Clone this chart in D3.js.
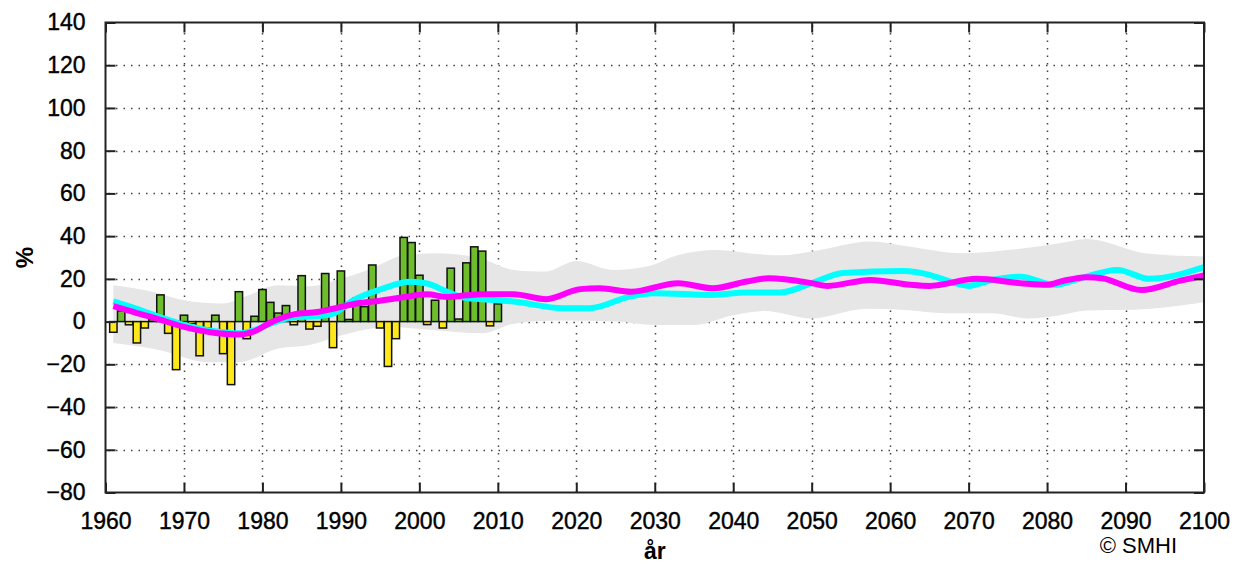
<!DOCTYPE html>
<html>
<head>
<meta charset="utf-8">
<script src="https://cdn.jsdelivr.net/npm/d3@7"></script>
<style>
  body { margin: 0; background: #fff; }
  svg { display: block; font-family: "Liberation Sans", Arial, sans-serif; }
</style>
</head>
<body>
<div id="chart"></div>
<script>
// observed yearly anomalies (%), 1961-2010
const barYears = d3.range(1961, 2011)
const barValues = [
  -5, 5, -1.5, -10, -3, 1, 12.5, -5.5, -22.5, 3,
  -1, -16, -3, 3, -15, -29.5, 14, -8, 2.5, 15,
  9, 4, 7.5, -1.5, 21.5, -3.5, -2.2, 22.5, -12.2, 23.7,
  1, 11, 7, 26.5, -3, -21, -8, 39.4, 37, 21.7,
  -1.4, 10, -3, 25, 1.2, 27.5, 35, 33, -2, 8.3
]

// smoothed series
const magentaYears = [1961, 1964, 1966, 1970, 1974, 1977, 1979, 1981, 1984, 1987, 1989, 1992, 1995, 1999, 2001, 2003.5, 2006, 2008, 2012, 2016.2, 2020.5, 2023, 2027, 2033, 2037.4, 2041.7, 2044.5, 2050, 2052, 2057.5, 2062.6, 2065, 2071, 2076.6, 2080, 2082, 2085, 2087, 2092, 2097, 2100]
const magentaValues = [7.2, 4, 2, -2.5, -5.3, -6, -4.5, -0.5, 3.4, 4.5, 6, 8.5, 9.8, 12, 12.8, 11.5, 12.3, 12.8, 12.8, 10.5, 15.2, 15.6, 14, 18, 15.6, 18.75, 20.3, 18, 16.7, 19.5, 17.2, 16.7, 20, 18, 17.2, 19, 20.8, 20.3, 14.8, 19.2, 21.6]

const cyanYears = [1961, 1964, 1967, 1970, 1974, 1977, 1979, 1981, 1984, 1987, 1989, 1991.6, 1995.4, 1998.8, 2001, 2003.5, 2006, 2008, 2012, 2018.3, 2021.7, 2026.8, 2029.8, 2037, 2041.7, 2046, 2050, 2054, 2061.7, 2065, 2067, 2070, 2073, 2076.6, 2081, 2084, 2089, 2093, 2100]
const cyanValues = [9.5, 6, 2, -1.5, -4.5, -5.5, -4, -1, 2, 2.5, 3.7, 10, 15.5, 18.6, 17.8, 14, 11, 10.5, 9.4, 6.25, 6.25, 11.7, 13.3, 12.5, 13.6, 13.6, 18, 22.7, 23.7, 21.9, 19.5, 16.7, 19.5, 21, 17.2, 20, 24.2, 20, 25.5]

// spread band
const bandUpperYears = [1961, 1966, 1970, 1975, 1978, 1982, 1986, 1990, 1994, 1998, 2002, 2007.7, 2012, 2016, 2020, 2024.7, 2029, 2033, 2038, 2042, 2046, 2050, 2057.5, 2062.6, 2069, 2075, 2081.6, 2085, 2093, 2100]
const bandUpperValues = [17, 14, 10, 8.5, 12, 17, 16.5, 20, 25, 31, 32, 29.7, 24.2, 23.4, 28.4, 24.2, 25.8, 31.2, 33.5, 32, 31, 32.8, 37.5, 35, 32, 33.5, 36.7, 38.7, 31.7, 30.5]
const bandLowerYears = [1961, 1967, 1973, 1977, 1982, 1986, 1990, 1996, 2002, 2008, 2012, 2018, 2025, 2030, 2035, 2040, 2044, 2050, 2057, 2062, 2067, 2073, 2077.5, 2081.6, 2085, 2091, 2100]
const bandLowerValues = [-10, -13.4, -19, -19, -12.6, -11, -6.5, -2.5, -4, -5.5, -1, 0.5, 0, -1.6, -1.6, 3, 5, 1.5, 6, 5.4, 3.9, 3.9, 1.5, 3, 5.2, 5.5, 9]

const yTicks = [-80, -60, -40, -20, 0, 20, 40, 60, 80, 100, 120, 140]
const xTicks = d3.range(1960, 2101, 10)

const width = 1237
const height = 563
const margin = { top: 22.5, right: 33, bottom: 70.5, left: 105.5 }

const svg = d3.select('#chart').append('svg')
  .attr('width', width)
  .attr('height', height)

svg.append('rect').attr('width', width).attr('height', height).attr('fill', '#fff')

const x = d3.scaleLinear().domain([1960, 2100]).range([margin.left, width - margin.right])
const y = d3.scaleLinear().domain([-80, 140]).range([height - margin.bottom, margin.top])

// grid
const grid = svg.append('g')
  .attr('stroke', '#444')
  .attr('stroke-width', 1.5)
  .attr('stroke-dasharray', '1.5,6')
grid.selectAll('.hg').data(yTicks.slice(1, -1)).enter().append('line')
  .attr('x1', x(1960) + 3).attr('x2', x(2100))
  .attr('y1', d => Math.round(y(d)) + 0.5).attr('y2', d => Math.round(y(d)) + 0.5)
grid.selectAll('.vg').data(xTicks.slice(1, -1)).enter().append('line')
  .attr('y1', y(140) + 3).attr('y2', y(-80))
  .attr('x1', d => Math.round(x(d)) + 0.5).attr('x2', d => Math.round(x(d)) + 0.5)

// band
const upper = bandUpperYears.map((d, i) => [d, bandUpperValues[i]])
const lower = bandLowerYears.map((d, i) => [d, bandLowerValues[i]])
const bandLine = d3.line().x(d => x(d[0])).y(d => y(d[1])).curve(d3.curveMonotoneX)
const upPath = bandLine(upper)
const loPath = bandLine(lower.slice().reverse())
svg.append('path')
  .attr('d', upPath + 'L' + loPath.slice(1) + 'Z')
  .attr('fill', '#e6e6e6')

// bars
svg.append('g').selectAll('rect')
  .data(barYears.map((d, i) => ({ year: d, value: barValues[i] })))
  .enter().append('rect')
  .attr('x', d => x(d.year - 0.47))
  .attr('width', x(1960.94) - x(1960))
  .attr('y', d => y(Math.max(0, d.value)))
  .attr('height', d => Math.abs(y(d.value) - y(0)))
  .attr('fill', d => d.value >= 0 ? '#6dbd2c' : '#ffe81a')
  .attr('stroke', '#111')
  .attr('stroke-width', 1.5)

// lines
const line = d3.line().x(d => x(d[0])).y(d => y(d[1])).curve(d3.curveMonotoneX)
svg.append('path')
  .attr('d', line(cyanYears.map((d, i) => [d, cyanValues[i]])))
  .attr('fill', 'none').attr('stroke', '#00ffff').attr('stroke-width', 6)
svg.append('path')
  .attr('d', line(magentaYears.map((d, i) => [d, magentaValues[i]])))
  .attr('fill', 'none').attr('stroke', '#ff00ff').attr('stroke-width', 6)

// axes
const axisStyle = g => {
  g.select('.domain').remove()
  g.selectAll('.tick line').attr('stroke', '#222').attr('stroke-width', 2)
  g.selectAll('.tick text').attr('fill', '#000').attr('font-size', 23)
    .attr('stroke', '#000').attr('stroke-width', 0.4)
    .attr('font-family', '"Liberation Sans", Arial, sans-serif')
}
svg.append('g')
  .attr('transform', `translate(${margin.left},0)`)
  .call(d3.axisLeft(y).tickValues(yTicks).tickSize(-10).tickPadding(20))
  .call(axisStyle)
svg.append('g')
  .attr('transform', `translate(${width - margin.right},0)`)
  .call(d3.axisRight(y).tickValues(yTicks).tickSize(-10).tickFormat(''))
  .call(axisStyle)
svg.append('g')
  .attr('transform', `translate(0,${height - margin.bottom})`)
  .call(d3.axisBottom(x).tickValues(xTicks).tickSize(-10).tickPadding(20).tickFormat(d3.format('d')))
  .call(axisStyle)
svg.append('g')
  .attr('transform', `translate(0,${margin.top})`)
  .call(d3.axisTop(x).tickValues(xTicks).tickSize(-10).tickFormat(''))
  .call(axisStyle)

// frame
svg.append('rect')
  .attr('x', margin.left).attr('y', margin.top)
  .attr('width', width - margin.left - margin.right)
  .attr('height', height - margin.top - margin.bottom)
  .attr('fill', 'none').attr('stroke', '#222').attr('stroke-width', 2)

// labels
svg.append('text')
  .attr('x', x(2030)).attr('y', 559)
  .attr('text-anchor', 'middle')
  .attr('font-size', 23).attr('font-weight', 'bold')
  .text('år')
svg.append('text')
  .attr('transform', `translate(33,${y(30)}) rotate(-90)`)
  .attr('text-anchor', 'middle')
  .attr('font-size', 24).attr('font-weight', 'bold')
  .text('%')
svg.append('text')
  .attr('x', 1177).attr('y', 553)
  .attr('text-anchor', 'end')
  .attr('font-size', 22)
  .text('© SMHI')
</script>
</body>
</html>
